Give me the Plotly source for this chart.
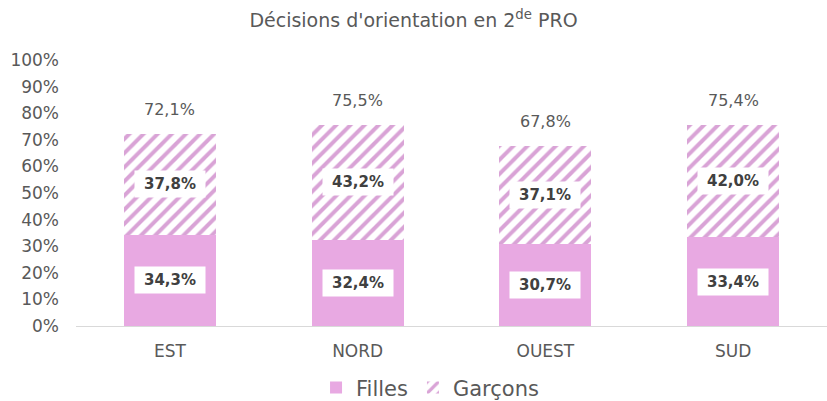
import plotly.graph_objects as go

regions = ["EST", "NORD", "OUEST", "SUD"]
filles = [34.3, 32.4, 30.7, 33.4]
garcons = [37.8, 43.2, 37.1, 42.0]
totals = [72.1, 75.5, 67.8, 75.4]
y_ticks = [0, 10, 20, 30, 40, 50, 60, 70, 80, 90, 100]
y_tick_labels = ["0%", "10%", "20%", "30%", "40%", "50%", "60%", "70%", "80%", "90%", "100%"]

PINK = "#E8A9E2"
HATCH = "#D9A3D6"
FONT = "DejaVu Sans, Verdana, sans-serif"

def fr(v):
    return f"{v:.1f}".replace(".", ",") + "%"

fig = go.Figure()
fig.add_trace(go.Bar(x=regions, y=filles, name="Filles",
                     marker=dict(color=PINK, line=dict(width=0))))
fig.add_trace(go.Bar(x=regions, y=garcons, name="Garçons",
                     marker=dict(color="white", line=dict(width=0),
                                 pattern=dict(shape="/", fgcolor=HATCH, bgcolor="white",
                                              size=10, solidity=0.4, fillmode="replace"))))

ann = []
for r, f, g, t in zip(regions, filles, garcons, totals):
    ann.append(dict(x=r, y=f / 2, text=f"<b>{fr(f)}</b>", showarrow=False,
                    font=dict(family=FONT, size=15, color="#404040"),
                    bgcolor="white", borderpad=4, width=62))
    ann.append(dict(x=r, y=f + g / 2, text=f"<b>{fr(g)}</b>", showarrow=False,
                    font=dict(family=FONT, size=15, color="#404040"),
                    bgcolor="white", borderpad=4, width=62))
    ann.append(dict(x=r, y=t, text=fr(t), showarrow=False, yanchor="bottom", yshift=13,
                    font=dict(family=FONT, size=16, color="#595959")))

fig.update_layout(
    width=827, height=401,
    barmode="stack", bargap=0.51,
    paper_bgcolor="white", plot_bgcolor="white",
    margin=dict(l=76, r=0, t=60, b=75, autoexpand=False),
    title=dict(text="Décisions d'orientation en 2<sup>de</sup> PRO", x=0.5, xanchor="center",
               y=0.95, yanchor="middle",
               font=dict(family=FONT, size=19, color="#595959")),
    font=dict(family=FONT, color="#595959"),
    xaxis=dict(showgrid=False, showline=True, linecolor="#D9D9D9", linewidth=1,
               tickfont=dict(family=FONT, size=17, color="#595959"), ticks="",
               ticklabelstandoff=10),
    yaxis=dict(range=[0, 100], tickvals=y_ticks, ticktext=y_tick_labels, showgrid=False,
               zeroline=False, showline=False, ticklabelstandoff=16,
               tickfont=dict(family=FONT, size=17, color="#595959")),
    legend=dict(orientation="h", x=0.52, xref="container", xanchor="center",
                y=-0.155, yanchor="top",
                font=dict(family=FONT, size=21, color="#595959"), traceorder="normal",
                itemwidth=30),
    annotations=ann,
)

fig.write_html("out.html", config={"displayModeBar": False},
               post_script="document.body.style.margin='0';document.body.style.padding='0';")
